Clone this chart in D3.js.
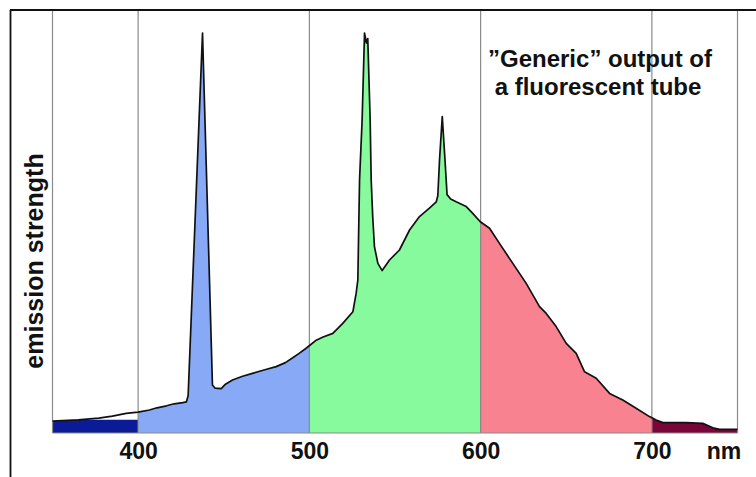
<!DOCTYPE html>
<html lang="en">
<head>
    <meta charset="UTF-8">
    <title>Fluorescent tube spectrum</title>
    <script src="https://d3js.org/d3.v7.min.js"></script>
    <style>
        body {
            margin: 0;
            background: #fff;
            font-family: "Liberation Sans", Arial, sans-serif;
        }
        .grid line {
            stroke: #8a8a8a;
            stroke-width: 1.2;
        }
        .axis text {
            font-size: 23px;
            font-weight: bold;
            fill: #111;
        }
    </style>
</head>
<body>
    <svg width="756" height="477"></svg>

    <script>
        // spectrum (nm, relative strength)
        const wavelength = [350, 365, 377, 385, 393, 400, 406.6, 411, 416.6, 421, 426, 428.2, 429.2,
            437.6, 443.4, 445, 448.5, 451, 455.1, 461, 466.8, 474, 480.6, 486, 490.3, 494, 498.1,
            500.5, 504, 508, 513.7, 519.5, 525.4, 527.3, 528.3, 529.3, 530.8, 532.2, 533.3, 534.1,
            535.5, 536.1, 537, 538, 540, 542.5, 546.8, 552.6, 558.5, 564.3, 570.1, 574.1, 575,
            576, 577.6, 579.2, 580.4, 582.5, 585.7, 591.6, 595.4, 599.8, 605.2, 611, 618.8, 626.6,
            634.4, 638.3, 644.1, 650, 655.8, 660.7, 667.5, 675.3, 683, 690.8, 698.6, 702.5, 706.4,
            720, 729.7, 735.6, 739.5, 750];
        const emission = [3.0, 3.3, 3.7, 4.2, 4.9, 5.2, 5.75, 6.3, 6.8, 7.3, 7.6, 7.8, 9.3,
            100, 12.0, 11.2, 11.1, 12.2, 13.25, 14.2, 14.9, 15.8, 16.6, 17.6, 18.8, 19.9, 21.2,
            22.0, 23.2, 24.0, 24.9, 27.4, 30.3, 34.9, 38.25, 63.25, 78.25, 100, 97.5, 98.6,
            78.25, 63.25, 54, 46.6, 42.4, 40.6, 43.25, 45.75, 50.75, 54.1, 56.2, 57.8, 59.3,
            68.25, 79.1, 68.25, 59.6, 58.5, 57.8, 56.6, 54.9, 52.8, 51.2, 47.4, 42.4, 37.4,
            31.6, 29.9, 26.6, 22.4, 19.9, 15.3, 13.7, 9.9, 8.25, 6.2, 4.1, 3.25, 2.6,
            2.6, 2.4, 1.3, 0.9, 0.9];

        const bandEdges = [350, 400, 500, 600, 700, 750];
        const bandColors = ["#0b1a96", "#88aaf6", "#86fa9c", "#f8828f", "#7a0538"];
        const uvFillLevel = 3.3;   // the dark blue block is flat topped
        const tickValues = [400, 500, 600, 700];
        const unitLabel = "nm";
        const yLabel = "emission strength";
        const titleLines = ["\u201DGeneric\u201D output of", " a fluorescent tube"];

        const data = wavelength.map((w, i) => ({w: w, v: emission[i]}));

        const svg = d3.select("svg");
        const x = d3.scaleLinear().domain([350, 750]).range([52.5, 737.5]);
        const y = d3.scaleLinear().domain([0, 100]).range([433, 33]);
        const frameTop = 10;

        // coloured bands under the curve
        const defs = svg.append("defs");
        bandColors.forEach((c, i) => {
            defs.append("clipPath").attr("id", "band" + i)
                .append("rect")
                .attr("x", x(bandEdges[i]))
                .attr("y", 0)
                .attr("width", x(bandEdges[i + 1]) - x(bandEdges[i]))
                .attr("height", y(0));

            const area = d3.area()
                .x(d => x(d.w))
                .y0(y(0))
                .y1(d => y(i === 0 ? Math.min(d.v, uvFillLevel) : d.v));

            svg.append("path")
                .datum(data)
                .attr("clip-path", `url(#band${i})`)
                .attr("fill", c)
                .attr("d", area);
        });

        // vertical grid lines
        svg.append("g").attr("class", "grid")
            .selectAll("line")
            .data(bandEdges)
            .enter().append("line")
            .attr("x1", d => x(d)).attr("x2", d => x(d))
            .attr("y1", frameTop).attr("y2", y(0));

        svg.append("line")
            .attr("x1", x(350)).attr("x2", x(750))
            .attr("y1", y(0)).attr("y2", y(0))
            .attr("stroke", "#8a8a8a").attr("stroke-width", 1.2);

        // the spectrum outline
        svg.append("path")
            .datum(data)
            .attr("fill", "none")
            .attr("stroke", "#111")
            .attr("stroke-width", 1.7)
            .attr("stroke-linejoin", "round")
            .attr("d", d3.line().x(d => x(d.w)).y(d => y(d.v)));

        // frame lines top and left
        svg.append("line").attr("x1", 10).attr("x2", 756).attr("y1", frameTop).attr("y2", frameTop)
            .attr("stroke", "#111").attr("stroke-width", 1.8);
        svg.append("line").attr("x1", 10.5).attr("x2", 10.5).attr("y1", frameTop).attr("y2", 477)
            .attr("stroke", "#111").attr("stroke-width", 1.8);

        const xAxis = svg.append("g")
            .attr("class", "axis")
            .attr("transform", `translate(0,${y(0)})`)
            .call(d3.axisBottom(x).tickValues(tickValues).tickSize(0).tickPadding(10).tickFormat(d3.format("d")));
        xAxis.select(".domain").remove();
        xAxis.selectAll("text").style("font-family", "'Liberation Sans', Arial, sans-serif");

        svg.append("text")
            .attr("x", 724).attr("y", 459)
            .attr("text-anchor", "middle")
            .style("font-size", "23px").style("font-weight", "bold").attr("fill", "#111")
            .text(unitLabel);

        svg.append("text")
            .attr("transform", "translate(43,261) rotate(-90)")
            .attr("text-anchor", "middle")
            .style("font-size", "25px").style("font-weight", "bold").attr("fill", "#111")
            .text(yLabel);

        svg.append("text")
            .attr("x", 488).attr("y", 67)
            .style("font-size", "24px").style("font-weight", "bold").attr("fill", "#111")
            .attr("xml:space", "preserve")
            .selectAll("tspan")
            .data(titleLines)
            .enter().append("tspan")
            .attr("x", 488)
            .attr("dy", (d, i) => i === 0 ? 0 : 28)
            .style("white-space", "pre")
            .text(d => d);
    </script>
</body>
</html>
